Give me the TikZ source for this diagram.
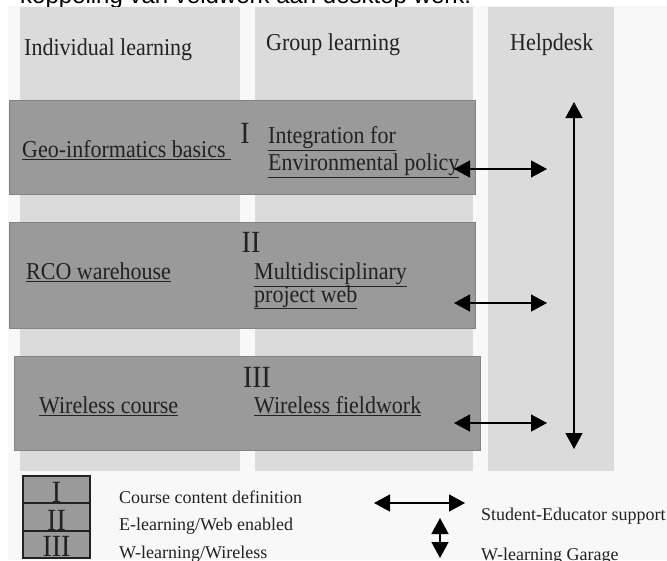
\documentclass[tikz,border=0pt]{standalone}
\usepackage{fontspec}
\setmainfont{Liberation Serif}
\newfontfamily\topfont{Liberation Sans}
\usetikzlibrary{arrows.meta}
\definecolor{colgray}{HTML}{DBDBDB}
\definecolor{boxgray}{HTML}{9A9A9A}
\definecolor{bggray}{HTML}{F8F8F8}
\definecolor{inkgray}{HTML}{222222}
\newcommand\tallx[1]{\scalebox{1}[1.1]{#1}}
\begin{document}
\begin{tikzpicture}[x=1pt,y=-1pt,
  lbl/.style={anchor=base west, inner sep=0pt, text=inkgray, font=\fontsize{22}{24}\selectfont},
  roman/.style={anchor=base, inner sep=0pt, text=inkgray, font=\fontsize{28}{30}\selectfont},
  legroman/.style={anchor=base, inner sep=0pt, text=inkgray, font=\fontsize{28}{30}\selectfont},
  leg/.style={anchor=base west, inner sep=0pt, text=inkgray, font=\fontsize{18}{20}\selectfont},
  dbl/.style={line width=1.5pt, draw=black, {Triangle[width=17pt,length=16pt]}-{Triangle[width=17pt,length=16pt]}},
  col/.style={fill=colgray, draw=none},
  band/.style={fill=boxgray, draw=boxgray!85!black, line width=0.5pt},
  legbox/.style={fill=boxgray, draw=inkgray, line width=1.2pt}]
\useasboundingbox (0,0) rectangle (667,560);
\fill[white] (0,0) rectangle (667,560);
\fill[bggray] (8,6) rectangle (667,560);
\node[anchor=base west, inner sep=0pt, font=\topfont\fontsize{24}{26}\selectfont] (title) at (20,3) {koppeling van veldwerk aan desktop werk.};
% columns
\fill[col] (20,7) rectangle (240,471);
\fill[col] (255,7) rectangle (473,471);
\fill[col] (488,7) rectangle (614,471);
\node[lbl] (h1) at (24,55) {\tallx{Individual learning}};
\node[lbl] (h2) at (266,50) {\tallx{Group learning}};
\node[lbl] (h3) at (510,50) {\tallx{Helpdesk}};
% bands
\filldraw[band] (9,100) rectangle (475,194);
\filldraw[band] (9,222) rectangle (475,328);
\filldraw[band] (14,356) rectangle (480,450);
% band I
\node[roman] (r1) at (245,143) {\tallx{I}};
\node[lbl] (geo) at (22,157) {\tallx{\underline{Geo-informatics basics\ }}};
\node[lbl] (int1) at (268,143) {\tallx{\underline{Integration for}}};
\node[lbl] (int2) at (268,170) {\tallx{\underline{Environmental policy}}};
% band II
\node[roman] (r2) at (251,252) {\tallx{II}};
\node[lbl] (rco) at (26,279) {\tallx{\underline{RCO warehouse}}};
\node[lbl] (mul1) at (254,279) {\tallx{\underline{Multidisciplinary}}};
\node[lbl] (mul2) at (254,302) {\tallx{\underline{project web}}};
% band III
\node[roman] (r3) at (257,387) {\tallx{III}};
\node[lbl] (wc) at (39,413) {\tallx{\underline{Wireless course}}};
\node[lbl] (wf) at (254,413) {\tallx{\underline{Wireless fieldwork}}};
% arrows
\coordinate (a1l) at (454,169); \coordinate (a1r) at (547,169);
\coordinate (a2l) at (454,303); \coordinate (a2r) at (547,303);
\coordinate (a3l) at (454,423); \coordinate (a3r) at (547,423);
\coordinate (vt) at (574,102); \coordinate (vb) at (574,449);
\draw[dbl] (a1l) -- (a1r);
\draw[dbl] (a2l) -- (a2r);
\draw[dbl] (a3l) -- (a3r);
\draw[dbl] (vt) -- (vb);
% legend
\filldraw[legbox] (23,476) rectangle (90,558);
\draw[inkgray, line width=1.2pt] (23,503) -- (90,503);
\draw[inkgray, line width=1.2pt] (23,531) -- (90,531);
\node[legroman] (l1) at (56.5,502) {\tallx{I}};
\node[legroman] (l2) at (56.5,530) {\tallx{II}};
\node[legroman] (l3) at (56.5,556.5) {\tallx{III}};
\node[leg] (t1) at (119,503) {Course content definition};
\node[leg] (t2) at (119,530) {E-learning/Web enabled};
\node[leg] (t3) at (119,558) {W-learning/Wireless};
\coordinate (lhl) at (374,503); \coordinate (lhr) at (465,503);
\coordinate (lvt) at (440,518); \coordinate (lvb) at (440,558);
\draw[dbl] (lhl) -- (lhr);
\draw[dbl] (lvt) -- (lvb);
\node[leg] (t4) at (481,520) {Student-Educator support};
\node[leg] (t5) at (481,560) {W-learning Garage};
\end{tikzpicture}
\end{document}
